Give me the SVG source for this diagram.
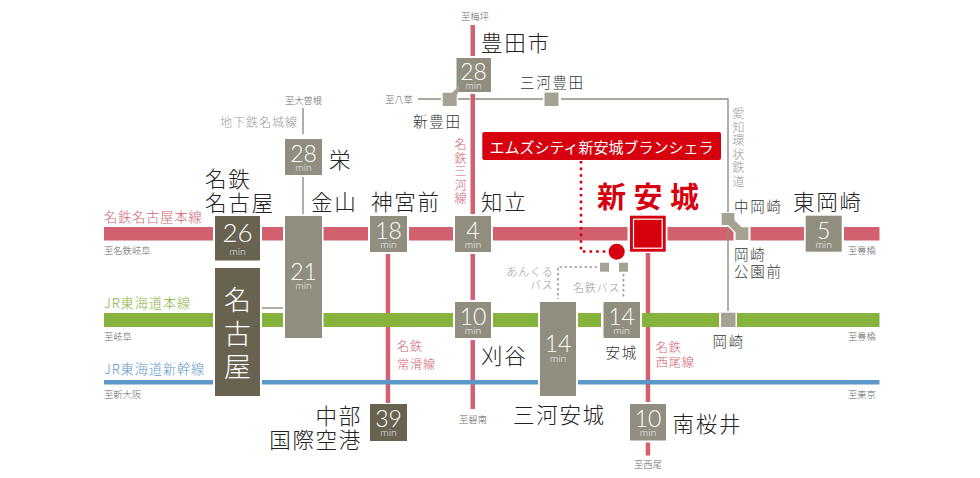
<svg xmlns="http://www.w3.org/2000/svg" width="980" height="478" viewBox="0 0 980 478">
<style>
text{font-family:"Noto Sans CJK JP","Noto Sans",sans-serif;dominant-baseline:central;font-weight:300}
.big{font-size:21.500px;letter-spacing:1.700px;fill:#222}
.mid{font-size:14.500px;letter-spacing:1.700px;fill:#333}
.to{font-size:9.300px;fill:#666}
.lbl{font-size:12.200px;letter-spacing:.8px;fill:#999}
.line{font-size:13.200px;letter-spacing:.9px}
.bus{font-size:11px;letter-spacing:.8px;fill:#999}
.r{fill:#d2606e}
.g{fill:#86b33c}
.b{fill:#5b97c8}
.end{text-anchor:end}
.dk{fill:#686351}
.gy{fill:#918e80}
.sq{fill:#a5a294}
.num{font-family:Lato,"Liberation Sans",sans-serif;font-size:23px;fill:#fff;text-anchor:middle;dominant-baseline:alphabetic;font-weight:300}
.min{font-family:Lato,"Liberation Sans",sans-serif;font-size:10.500px;fill:#fff;text-anchor:middle;dominant-baseline:alphabetic;font-weight:300;opacity:.9}
.thin{stroke:#8f8c82;stroke-width:1.400;fill:none}
.rl{fill:#d2606e}
.gl{fill:#86b33c}
.bl{fill:#5b97c8}
</style>
<g id="connectors">
<rect class="rl" x="470.500" y="25" width="4.500" height="31"/>
<rect class="rl" x="470.500" y="94" width="4.500" height="120"/>
<rect class="rl" x="470.500" y="254" width="4.500" height="46"/>
<rect class="rl" x="470.500" y="340" width="4.500" height="69"/>
<rect class="rl" x="385.700" y="254" width="4.500" height="149"/>
<rect class="rl" x="645.700" y="253" width="4.500" height="149"/>
<rect class="rl" x="645.700" y="442.500" width="4.500" height="13"/>
<g id="line-meitetsu">
<rect class="rl" x="104" y="227" width="109" height="13.500"/>
<rect class="rl" x="262" y="227" width="21" height="13.500"/>
<rect class="rl" x="323.500" y="227" width="44.500" height="13.500"/>
<rect class="rl" x="409" y="227" width="44" height="13.500"/>
<rect class="rl" x="493" y="227" width="134.500" height="13.500"/>
<rect class="rl" x="667.500" y="227" width="66" height="13.500"/>
<rect class="rl" x="750.500" y="227" width="53.500" height="13.500"/>
<rect class="rl" x="844" y="227" width="35.500" height="13.500"/>
</g>
<g id="line-jr">
<rect class="gl" x="104" y="313" width="109" height="14"/>
<rect class="gl" x="262" y="313" width="21" height="14"/>
<rect class="gl" x="323.500" y="313" width="129.500" height="14"/>
<rect class="gl" x="493" y="313" width="45" height="14"/>
<rect class="gl" x="578" y="313" width="23" height="14"/>
<rect class="gl" x="642" y="313" width="77" height="14"/>
<rect class="gl" x="737" y="313" width="142.500" height="14"/>
</g>
<g id="line-shinkansen">
<rect class="bl" x="104" y="380" width="109" height="4.500"/>
<rect class="bl" x="262" y="380" width="276" height="4.500"/>
<rect class="bl" x="578" y="380" width="301.500" height="4.500"/>
</g>
<path class="thin" d="M303 108V134M303 177V214"/>
<path class="thin" d="M262 308H283"/>
<path class="thin" d="M418 99H441M458 99H470M475 99H543M561 99H728V311"/>
<path d="M581 161V251.500H606" fill="none" stroke="#d7000f" stroke-width="2.600" stroke-dasharray="2.600 4"/>
<path d="M597 267H558V299M623.500 274V299" fill="none" stroke="#999" stroke-width="1.600" stroke-dasharray="2.500 2.500"/>
</g>
<g id="node-meitetsu-nagoya"><rect class="dk" x="215" y="216" width="45" height="44.500"/><text class="num" x="237.500" y="241.500" style="font-size:26px">26</text><text class="min" x="237.500" y="254.500">min</text>
<text class="big" x="205" y="177">名鉄</text><text class="big" x="205" y="201">名古屋</text></g>
<g id="node-nagoya"><rect class="dk" x="215" y="268" width="45" height="128"/>
<text x="237.500" y="298" text-anchor="middle" style="font-size:27px;fill:#fff">名</text><text x="237.500" y="332" text-anchor="middle" style="font-size:27px;fill:#fff">古</text><text x="237.500" y="365" text-anchor="middle" style="font-size:27px;fill:#fff">屋</text></g>
<g id="node-sakae"><rect class="gy" x="285" y="139" width="37" height="36"/><text class="num" x="303.500" y="161.500">28</text><text class="min" x="303.500" y="170.800">min</text><text class="big" x="329" y="158">栄</text></g>
<g id="node-kanayama"><rect class="gy" x="285" y="216" width="37" height="122"/><text class="num" x="303.500" y="280">21</text><text class="min" x="303.500" y="289.300">min</text><text class="big" x="311" y="200">金山</text></g>
<g id="node-jingumae"><rect class="gy" x="370" y="216" width="37" height="36"/><text class="num" x="388.500" y="238.500">18</text><text class="min" x="388.500" y="247.800">min</text><text class="big" x="371" y="200">神宮前</text></g>
<g id="node-airport"><rect class="dk" x="370" y="404" width="37" height="37"/><text class="num" x="388.500" y="426.500">39</text><text class="min" x="388.500" y="436">min</text><text class="big end" x="362" y="414">中部</text><text class="big end" x="362" y="438">国際空港</text></g>
<g id="node-chiryu"><rect class="gy" x="455" y="216" width="36" height="36"/><text class="num" x="473" y="238.500">4</text><text class="min" x="473" y="247.800">min</text><text class="big" x="481" y="200">知立</text></g>
<g id="node-kariya"><rect class="gy" x="455" y="302" width="36" height="36"/><text class="num" x="473" y="324.500">10</text><text class="min" x="473" y="333.800">min</text><text class="big" x="481" y="354">刈谷</text></g>
<g id="node-toyotashi"><rect class="gy" x="456.500" y="58" width="34.500" height="34"/><text class="num" x="473.500" y="79.500">28</text><text class="min" x="473.500" y="88.800">min</text><text class="big" x="481" y="41">豊田市</text></g>
<g id="node-shintoyota"><path class="sq" d="M442.700 92.700H452L459 86V91L456.700 95V106H442.700Z"/><text class="mid" x="413" y="120">新豊田</text></g>
<g id="node-mikawatoyota"><rect class="sq" x="544.500" y="92.500" width="14" height="13.500"/><text class="mid" x="520" y="81">三河豊田</text></g>
<g id="node-label"><rect x="482.300" y="132" width="238.700" height="28" rx="2" fill="#d7000f"/><text x="601.500" y="146" text-anchor="middle" style="font-size:15px;fill:#fff;font-weight:400">エムズシティ新安城ブランシェラ</text></g>
<g id="node-shinanjo"><rect x="630" y="215.700" width="35.700" height="36" fill="#d7000f"/><rect x="633.500" y="219.200" width="28.700" height="29" fill="#d7000f" stroke="#fff" stroke-width="1.200"/>
<text x="597" y="195" style="font-size:29px;letter-spacing:7.500px;fill:#d7000f;font-weight:700">新安城</text></g>
<g id="node-site"><circle cx="616.700" cy="251.700" r="8" fill="#d7000f"/></g>
<g id="node-busstops"><rect class="sq" x="600" y="262.700" width="9" height="9"/><rect class="sq" x="619" y="262.700" width="9" height="9"/>
<text class="bus end" x="553.500" y="271">あんくる</text><text class="bus end" x="553.500" y="283.500">バス</text><text class="bus" x="573" y="287">名鉄バス</text></g>
<g id="node-mikawaanjo"><rect class="gy" x="540" y="302" width="36" height="94"/><text class="num" x="558" y="352">14</text><text class="min" x="558" y="361.500">min</text><text class="big" x="513" y="413">三河安城</text></g>
<g id="node-anjo"><rect class="gy" x="603.500" y="302" width="36.500" height="36"/><text class="num" x="621.500" y="324.500">14</text><text class="min" x="621.500" y="333.800">min</text><text class="mid" x="605.500" y="351">安城</text></g>
<g id="node-minamisakurai"><rect class="gy" x="630" y="404" width="36" height="36.500"/><text class="num" x="648" y="426.500">10</text><text class="min" x="648" y="436">min</text><text class="big" x="672.500" y="422">南桜井</text></g>
<g id="node-nakaokazaki"><path class="sq" d="M721 212.500H735V220L742 226.700H749V240.700H735V232.500L728 225.700H721Z" stroke="#fff" stroke-width="1.200"/><text class="mid" x="734" y="205">中岡崎</text><text class="mid" x="734" y="253">岡崎</text><text class="mid" x="734" y="270">公園前</text></g>
<g id="node-okazaki"><rect class="sq" x="721" y="312.700" width="14.500" height="14.300"/><text class="mid" x="712.500" y="340">岡崎</text></g>
<g id="node-higashiokazaki"><rect class="gy" x="805.700" y="215.700" width="36" height="36"/><text class="num" x="823.700" y="238.500">5</text><text class="min" x="823.700" y="247.800">min</text><text class="big" x="793" y="200">東岡崎</text></g>
<g id="labels">
<text class="line r" x="104" y="216">名鉄名古屋本線</text><text class="to" x="104" y="250">至名鉄岐阜</text>
<text class="line g" x="104" y="302">JR東海道本線</text><text class="to" x="104" y="336">至岐阜</text>
<text class="line b" x="104" y="368">JR東海道新幹線</text><text class="to" x="104" y="394">至新大阪</text>
<text class="to" x="303.500" y="99.500" text-anchor="middle">至大曽根</text><text class="lbl" x="220" y="122">地下鉄名城線</text>
<text class="to" x="475" y="16" text-anchor="middle">至梅坪</text><text class="to" x="385" y="99">至八草</text>
<text class="to" x="473" y="419" text-anchor="middle">至碧南</text><text class="to" x="648" y="464" text-anchor="middle">至西尾</text>
<text class="to" x="848" y="250">至豊橋</text><text class="to" x="848" y="336">至豊橋</text><text class="to" x="848" y="394">至東京</text>
<text class="lbl r" x="461" y="144" text-anchor="middle">名</text><text class="lbl r" x="461" y="157.500" text-anchor="middle">鉄</text><text class="lbl r" x="461" y="171" text-anchor="middle">三</text><text class="lbl r" x="461" y="184.500" text-anchor="middle">河</text><text class="lbl r" x="461" y="198" text-anchor="middle">線</text>
<text class="lbl" x="738.700" y="113" text-anchor="middle">愛</text><text class="lbl" x="738.700" y="126.700" text-anchor="middle">知</text><text class="lbl" x="738.700" y="140" text-anchor="middle">環</text><text class="lbl" x="738.700" y="153.500" text-anchor="middle">状</text><text class="lbl" x="738.700" y="167" text-anchor="middle">鉄</text><text class="lbl" x="738.700" y="180.500" text-anchor="middle">道</text>
<text class="lbl r" x="397" y="346">名鉄</text><text class="lbl r" x="397" y="364">常滑線</text>
<text class="lbl r" x="655.700" y="346.700">名鉄</text><text class="lbl r" x="655.700" y="361.700">西尾線</text>
</g>
</svg>
